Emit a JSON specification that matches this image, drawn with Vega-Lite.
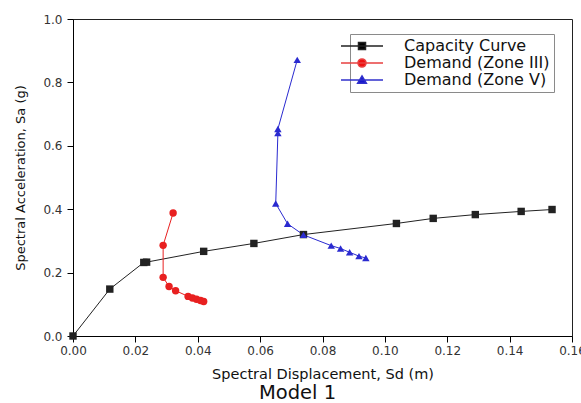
{
  "$schema": "https://vega.github.io/schema/vega-lite/v6.json",
  "width": 499,
  "height": 317,
  "autosize": "none",
  "padding": {"left": 73, "top": 19, "right": 9, "bottom": 67},
  "background": "white",
  "config": {
    "font": "DejaVu Sans",
    "view": {"stroke": "#222", "strokeWidth": 1},
    "legend": {
      "orient": "none",
      "legendX": 277,
      "legendY": 15,
      "strokeColor": "#8a8a8a",
      "fillColor": "white",
      "padding": 4,
      "rowPadding": 1,
      "symbolSize": 49,
      "labelFont": "DejaVu Sans",
      "labelFontSize": 16,
      "labelColor": "#111",
      "labelOffset": 34,
      "labelExpr": "datum.label == 'Capacity Curve' ? datum.label : ' ' + datum.label"
    }
  },
  "title": {
    "text": "Model 1",
    "orient": "bottom",
    "fontSize": 19.5,
    "font": "DejaVu Sans",
    "fontWeight": "normal",
    "color": "#111",
    "dx": -25,
    "offset": 3
  },
  "data": {
    "values": [
      {"series": "Capacity Curve", "Sd": 0.0, "Sa": 0.0},
      {"series": "Capacity Curve", "Sd": 0.0118, "Sa": 0.148},
      {"series": "Capacity Curve", "Sd": 0.0227, "Sa": 0.232},
      {"series": "Capacity Curve", "Sd": 0.0236, "Sa": 0.233},
      {"series": "Capacity Curve", "Sd": 0.0419, "Sa": 0.267},
      {"series": "Capacity Curve", "Sd": 0.058, "Sa": 0.292},
      {"series": "Capacity Curve", "Sd": 0.0739, "Sa": 0.32},
      {"series": "Capacity Curve", "Sd": 0.1037, "Sa": 0.355},
      {"series": "Capacity Curve", "Sd": 0.1155, "Sa": 0.371},
      {"series": "Capacity Curve", "Sd": 0.129, "Sa": 0.383},
      {"series": "Capacity Curve", "Sd": 0.1437, "Sa": 0.393},
      {"series": "Capacity Curve", "Sd": 0.1536, "Sa": 0.399},
      {"series": "Demand (Zone III)", "Sd": 0.0321, "Sa": 0.388},
      {"series": "Demand (Zone III)", "Sd": 0.0289, "Sa": 0.286},
      {"series": "Demand (Zone III)", "Sd": 0.0289, "Sa": 0.185},
      {"series": "Demand (Zone III)", "Sd": 0.0308, "Sa": 0.156},
      {"series": "Demand (Zone III)", "Sd": 0.0329, "Sa": 0.143},
      {"series": "Demand (Zone III)", "Sd": 0.0369, "Sa": 0.125},
      {"series": "Demand (Zone III)", "Sd": 0.0383, "Sa": 0.12},
      {"series": "Demand (Zone III)", "Sd": 0.0396, "Sa": 0.116},
      {"series": "Demand (Zone III)", "Sd": 0.0409, "Sa": 0.112},
      {"series": "Demand (Zone III)", "Sd": 0.0419, "Sa": 0.109},
      {"series": "Demand (Zone V)", "Sd": 0.0719, "Sa": 0.871},
      {"series": "Demand (Zone V)", "Sd": 0.0657, "Sa": 0.653},
      {"series": "Demand (Zone V)", "Sd": 0.0657, "Sa": 0.64},
      {"series": "Demand (Zone V)", "Sd": 0.065, "Sa": 0.418},
      {"series": "Demand (Zone V)", "Sd": 0.0688, "Sa": 0.354},
      {"series": "Demand (Zone V)", "Sd": 0.0739, "Sa": 0.319},
      {"series": "Demand (Zone V)", "Sd": 0.0828, "Sa": 0.285},
      {"series": "Demand (Zone V)", "Sd": 0.0858, "Sa": 0.276},
      {"series": "Demand (Zone V)", "Sd": 0.0887, "Sa": 0.264},
      {"series": "Demand (Zone V)", "Sd": 0.0917, "Sa": 0.252},
      {"series": "Demand (Zone V)", "Sd": 0.0939, "Sa": 0.246}
    ]
  },
  "resolve": {
    "scale": {"shape": "independent", "fill": "independent", "stroke": "independent"},
    "legend": {"shape": "independent", "fill": "independent", "stroke": "independent"}
  },
  "layer": [
    {
      "mark": {"type": "line", "strokeWidth": 1},
      "encoding": {
        "x": {
          "field": "Sd", "type": "quantitative",
          "scale": {"domain": [0, 0.16], "nice": false, "zero": false},
          "axis": {
            "title": "Spectral Displacement, Sd (m)",
            "values": [0, 0.01, 0.02, 0.03, 0.04, 0.05, 0.06, 0.07, 0.08, 0.09, 0.1, 0.11, 0.12, 0.13, 0.14, 0.15, 0.16],
            "labelExpr": "round(datum.value*100) % 2 == 0 ? format(datum.value, '.2f') : ''",
            "tickSize": {"condition": {"test": "round(datum.value*100) % 2 == 0", "value": 6}, "value": 3},
            "grid": false,
            "labelFlush": false,
            "labelOverlap": false,
            "labelFont": "DejaVu Sans",
            "labelFontSize": 12,
            "labelColor": "#333",
            "labelPadding": 3,
            "titleFont": "DejaVu Sans",
            "titleFontSize": 14.5,
            "titleFontWeight": "normal",
            "titleColor": "#111",
            "titlePadding": 11,
            "domainColor": "#000",
            "tickColor": "#000"
          }
        },
        "y": {
          "field": "Sa", "type": "quantitative",
          "scale": {"domain": [0, 1], "nice": false},
          "axis": {
            "title": "Spectral Acceleration, Sa (g)",
            "values": [0, 0.1, 0.2, 0.3, 0.4, 0.5, 0.6, 0.7, 0.8, 0.9, 1.0],
            "labelExpr": "round(datum.value*10) % 2 == 0 ? format(datum.value, '.1f') : ''",
            "tickSize": {"condition": {"test": "round(datum.value*10) % 2 == 0", "value": 6}, "value": 3},
            "grid": false,
            "labelOverlap": false,
            "labelFont": "DejaVu Sans",
            "labelFontSize": 12,
            "labelColor": "#333",
            "labelPadding": 5,
            "titleFont": "DejaVu Sans",
            "titleFontSize": 13,
            "titleFontWeight": "normal",
            "titleColor": "#111",
            "titlePadding": 15,
            "domainColor": "#000",
            "tickColor": "#000"
          }
        },
        "color": {
          "field": "series", "type": "nominal",
          "scale": {"domain": ["Capacity Curve", "Demand (Zone III)", "Demand (Zone V)"], "range": ["#222222", "#e82020", "#2a2ad0"]},
          "legend": null
        },
        "order": {"field": "Sa", "type": "quantitative"}
      }
    },
    {
      "mark": {"type": "point", "filled": true, "opacity": 1, "size": 55},
      "encoding": {
        "x": {"field": "Sd", "type": "quantitative"},
        "y": {"field": "Sa", "type": "quantitative"},
        "color": {"field": "series", "type": "nominal", "legend": null},
        "shape": {
          "field": "series", "type": "nominal",
          "scale": {"domain": ["Capacity Curve", "Demand (Zone III)", "Demand (Zone V)"], "range": ["square", "circle", "triangle-up"]},
          "legend": null
        }
      }
    },
    {
      "data": {"values": []},
      "mark": {"type": "point", "filled": true, "opacity": 1, "size": 49, "strokeWidth": 1},
      "encoding": {
        "fill": {
          "field": "series", "type": "nominal",
          "scale": {"domain": ["Capacity Curve", "Demand (Zone III)", "Demand (Zone V)"], "range": ["#000000", "#ee1111", "#1515cc"]},
          "legend": {"title": null}
        },
        "stroke": {
          "field": "series", "type": "nominal",
          "scale": {"domain": ["Capacity Curve", "Demand (Zone III)", "Demand (Zone V)"], "range": ["#222222", "#e84040", "#3030cc"]},
          "legend": {"title": null}
        },
        "shape": {
          "field": "series", "type": "nominal",
          "scale": {
            "domain": ["Capacity Curve", "Demand (Zone III)", "Demand (Zone V)"],
            "range": [
              "M-6,0H6M-1,-1H1V1H-1Z",
              "M-6,0H6M1.15,0A1.15,1.15,0,1,1,-1.15,0A1.15,1.15,0,1,1,1.15,0Z",
              "M-6,0H6M0,-1.15L1.25,0.95H-1.25Z"
            ]
          },
          "legend": {"title": null}
        }
      }
    }
  ]
}
